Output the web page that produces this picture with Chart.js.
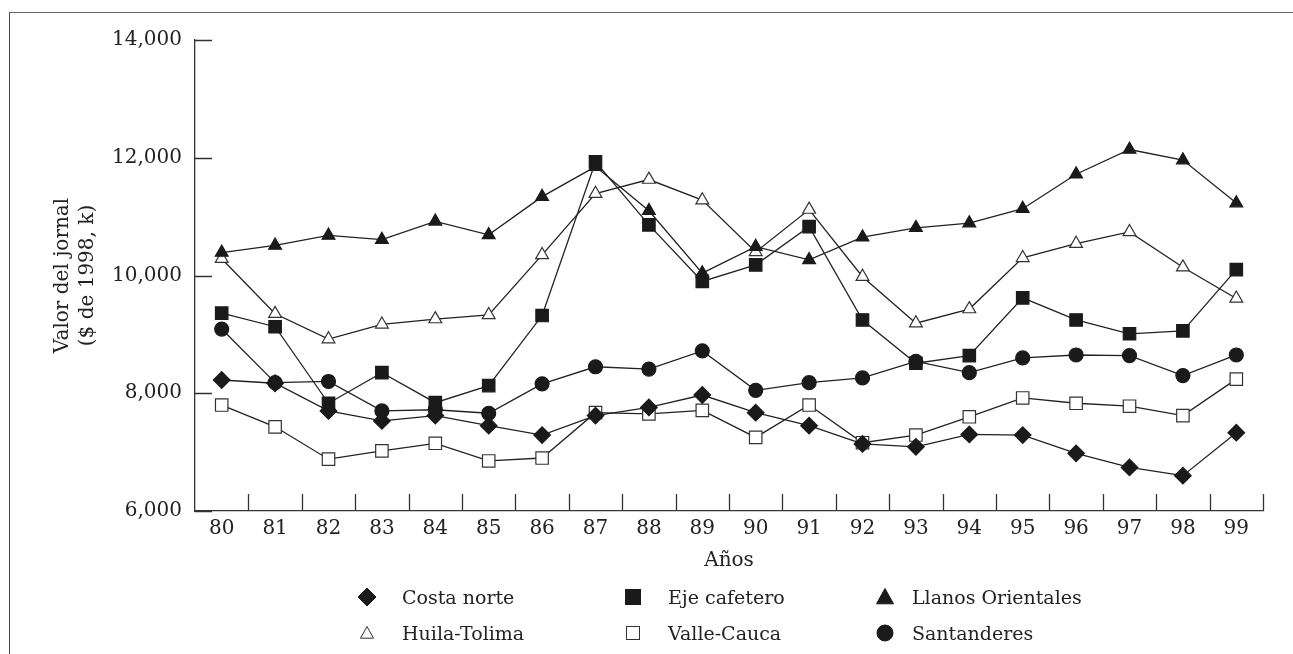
<!DOCTYPE html>
<html>
<head>
<meta charset="utf-8">
<script src="https://cdn.jsdelivr.net/npm/chart.js@4.4.1/dist/chart.umd.min.js"></script>
<style>
  body { margin: 0; background: #fff; }
  #wrap { position: relative; width: 1293px; height: 654px; overflow: hidden; }
  #frame { position: absolute; left: 9px; top: 12px; width: 1300px; height: 660px;
           border-top: 1.5px solid #666; border-left: 1.5px solid #444; }
  canvas { position: absolute; left: 0; top: 0; }
  .mk { position: absolute; }
  .lbl { position: absolute; font-family: 'DejaVu Serif'; font-size: 19px; color: #222;
         white-space: nowrap; line-height: 24px; }
</style>
</head>
<body>
<div id="wrap">
  <div id="frame"></div>
  <canvas id="chart" width="1293" height="654"></canvas>
  <div id="legend"></div>
</div>
<script>
const years = ['80','81','82','83','84','85','86','87','88','89','90','91','92','93','94','95','96','97','98','99'];

const costaNorte   = [8225, 8170, 7700, 7530, 7620, 7450, 7290, 7620, 7760, 7970, 7670, 7450, 7140, 7090, 7300, 7290, 6980, 6740, 6600, 7330];
const ejeCafetero  = [9360, 9130, 7830, 8350, 7840, 8130, 9320, 11930, 10860, 9900, 10180, 10830, 9245, 8510, 8640, 9620, 9245, 9010, 9060, 10100];
const llanos       = [10390, 10510, 10680, 10610, 10920, 10690, 11340, 11850, 11100, 10040, 10490, 10265, 10650, 10810, 10890, 11135, 11720, 12140, 11960, 11230];
const huilaTolima  = [10285, 9350, 8920, 9170, 9260, 9330, 10350, 11390, 11630, 11280, 10400, 11120, 9980, 9190, 9430, 10300, 10540, 10740, 10140, 9610];
const valleCauca   = [7800, 7430, 6880, 7020, 7150, 6850, 6900, 7670, 7650, 7710, 7250, 7800, 7160, 7290, 7600, 7920, 7830, 7780, 7620, 8240];
const santanderes  = [9090, 8180, 8200, 7700, 7720, 7660, 8160, 8450, 8410, 8720, 8050, 8180, 8260, 8540, 8350, 8600, 8650, 8640, 8300, 8650];

const yTicks = [6000, 8000, 10000, 12000, 14000];
const yTitle = ['Valor del jornal', '($ de 1998, k)'];
const xTitle = 'Años';

const FONT = 'DejaVu Serif';
const INK = '#222';

function series(label, data, style, radius, filled) {
    return {
        label: label,
        data: data,
        borderColor: INK,
        borderWidth: 1.3,
        tension: 0,
        fill: false,
        pointStyle: style,
        pointRadius: radius,
        pointHoverRadius: radius,
        pointBorderWidth: 1.2,
        pointBorderColor: filled ? '#1a1a1a' : '#333',
        pointBackgroundColor: filled ? '#1a1a1a' : '#fff',
        filledMark: filled
    };
}

const datasets = [
    series('Costa norte', costaNorte, 'rectRot', 8.3, true),
    series('Eje cafetero', ejeCafetero, 'rect', 8.8, true),
    series('Llanos Orientales', llanos, 'triangle', 7.4, true),
    series('Huila-Tolima', huilaTolima, 'triangle', 7.4, false),
    series('Valle-Cauca', valleCauca, 'rect', 8.8, false),
    series('Santanderes', santanderes, 'circle', 7, true)
];

// ticks drawn inside the plot, like the printed figure
const innerTicks = {
    id: 'innerTicks',
    beforeDatasetsDraw(chart) {
        const { ctx, scales: { x, y } } = chart;
        ctx.save();
        ctx.strokeStyle = '#333';
        ctx.lineWidth = 1.3;
        ctx.beginPath();
        yTicks.forEach(v => {
            const py = Math.round(y.getPixelForValue(v)) + 0.5;
            ctx.moveTo(x.left, py);
            ctx.lineTo(x.left + 17, py);
        });
        for (let i = 1; i <= years.length; i++) {
            const px = Math.round(x.getPixelForValue(i - 0.5)) + 0.5;
            ctx.moveTo(px, y.bottom);
            ctx.lineTo(px, y.bottom - 17);
        }
        ctx.stroke();
        ctx.restore();
    }
};

const ctx = document.getElementById('chart').getContext('2d');
const chart = new Chart(ctx, {
    type: 'line',
    data: { labels: years, datasets: datasets },
    options: {
        responsive: false,
        animation: false,
        devicePixelRatio: 1,
        layout: { padding: { left: 0, top: 40, right: 30, bottom: 73 } },
        plugins: { legend: { display: false }, tooltip: { enabled: false } },
        scales: {
            x: {
                offset: true,
                grid: { drawOnChartArea: false, drawTicks: false },
                border: { display: true, color: '#333', width: 1.3 },
                ticks: { color: INK, font: { family: FONT, size: 20 }, padding: 6, maxRotation: 0, autoSkip: false },
                title: { display: true, text: xTitle, color: INK, font: { family: FONT, size: 20 }, padding: { top: 0, bottom: 8 } },
                afterFit(s) { s.height = 70; }
            },
            y: {
                min: 6000,
                max: 14000,
                afterBuildTicks(s) { s.ticks = yTicks.map(v => ({ value: v })); },
                grid: { drawOnChartArea: false, drawTicks: false },
                border: { display: true, color: '#333', width: 1.3 },
                ticks: { color: INK, font: { family: FONT, size: 20 }, padding: 13,
                         callback: v => v.toLocaleString('en-US') },
                title: { display: true, text: yTitle, color: INK,
                         font: { family: FONT, size: 20, lineHeight: 1.25 }, padding: { top: 50, bottom: 0 } },
                afterFit(s) { s.width = 195; }
            }
        }
    },
    plugins: [innerTicks]
});

// legend in 3 columns x 2 rows
const colMark = [367, 633, 885];
const colText = [402, 668, 912];
const rowY = [597, 633];

function markerSvg(style, filled, big) {
    const s = 20, c = 10;
    const fill = filled ? '#1a1a1a' : '#fff';
    const stroke = filled ? '#1a1a1a' : '#333';
    let shape = '';
    if (style === 'rectRot') {
        const r = big ? 9 : 7;
        shape = `<polygon points="${c},${c - r} ${c + r},${c} ${c},${c + r} ${c - r},${c}"/>`;
    } else if (style === 'rect') {
        const h = filled ? 7.5 : 6.5;
        shape = `<rect x="${c - h}" y="${c - h}" width="${2 * h}" height="${2 * h}"/>`;
    } else if (style === 'triangle') {
        const h = filled ? 8.5 : 6.5;
        shape = `<polygon points="${c},${c - h} ${c + h},${c + h * 0.8} ${c - h},${c + h * 0.8}"/>`;
    } else {
        shape = `<circle cx="${c}" cy="${c}" r="8"/>`;
    }
    return `<svg width="${s}" height="${s}" viewBox="0 0 ${s} ${s}"><g fill="${fill}" stroke="${stroke}" stroke-width="1">${shape}</g></svg>`;
}

const legend = document.getElementById('legend');
chart.data.datasets.forEach((ds, i) => {
    const col = i % 3, row = Math.floor(i / 3);
    const mk = document.createElement('div');
    mk.className = 'mk';
    mk.style.left = (colMark[col] - 10) + 'px';
    mk.style.top = (rowY[row] - 10) + 'px';
    mk.innerHTML = markerSvg(ds.pointStyle, ds.filledMark, true);
    legend.appendChild(mk);
    const lb = document.createElement('div');
    lb.className = 'lbl';
    lb.style.left = colText[col] + 'px';
    lb.style.top = (rowY[row] - 12) + 'px';
    lb.textContent = ds.label;
    legend.appendChild(lb);
});
</script>
</body>
</html>
